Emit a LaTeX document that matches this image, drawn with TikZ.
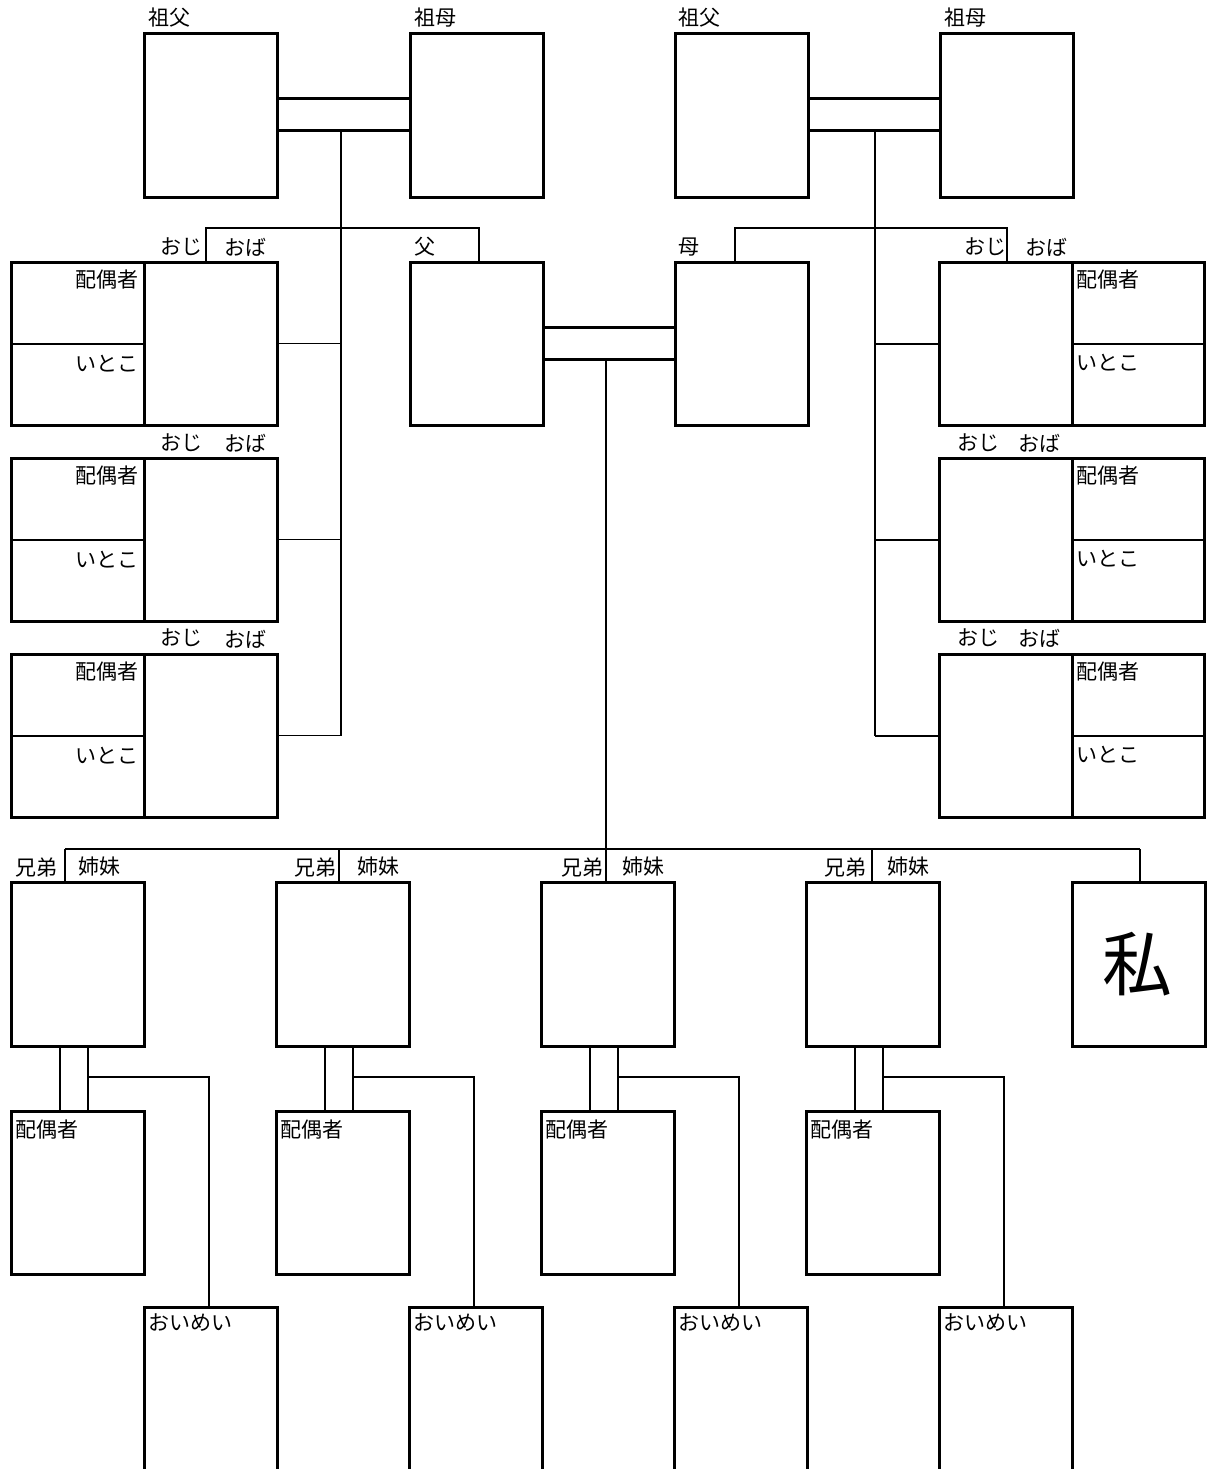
\documentclass[tikz,border=0pt]{standalone}
\usepackage{fontspec}
\newfontfamily\jp{Noto Sans CJK JP}
\begin{document}
\begin{tikzpicture}[x=1pt,y=-1pt,
  box/.style={draw, line width=3pt, minimum width=133pt, minimum height=163pt, anchor=north west, inner sep=0pt, outer sep=0pt},
  conn/.style={line width=1.4pt},
  connb/.style={line width=2pt},
  bar/.style={line width=3pt},
  divl/.style={line width=2pt},
  lbl/.style={font=\jp\fontsize{21}{25}\selectfont, inner sep=0pt, outer sep=0pt},
  big/.style={font=\jp\fontsize{70}{74}\selectfont, inner sep=0pt},
]
\useasboundingbox (0,0) rectangle (1209,1469);
\fill[white] (0,0) rectangle (1209,1469);
\clip (0,0) rectangle (1209,1469);

% ---------- grandparents ----------
\node[box] (gfL) at (144,34) {};
\node[box] (gmL) at (410,34) {};
\node[box] (gfR) at (675,34) {};
\node[box] (gmR) at (940,34) {};
\node[lbl, anchor=west] (lgfL) at (148,18) {祖父};
\node[lbl, anchor=west] (lgmL) at (414,18) {祖母};
\node[lbl, anchor=west] (lgfR) at (678,18) {祖父};
\node[lbl, anchor=west] (lgmR) at (944,18) {祖母};

\draw[bar] ([yshift=-65pt]gfL.north east) -- ([yshift=-65pt]gmL.north west);
\draw[bar] ([yshift=-97pt]gfL.north east) -- ([yshift=-97pt]gmL.north west);
\draw[bar] ([yshift=-65pt]gfR.north east) -- ([yshift=-65pt]gmR.north west);
\draw[bar] ([yshift=-97pt]gfR.north east) -- ([yshift=-97pt]gmR.north west);

% ---------- parents ----------
\node[box] (fa) at (410,262) {};
\node[box] (mo) at (675,262) {};
\node[lbl, anchor=west] (lfa) at (414,247) {父};
\node[lbl, anchor=west] (lmo) at (678,247) {母};
\draw[bar] ([yshift=-65pt]fa.north east) -- ([yshift=-65pt]mo.north west);
\draw[bar] ([yshift=-97pt]fa.north east) -- ([yshift=-97pt]mo.north west);

% ---------- left uncles / aunts ----------
\foreach \k/\t in {1/262, 2/458, 3/654} {
  \node[box] (uL\k) at (144,\t) {};
  \node[box] (cL\k) at (11,\t) {};
  \draw[divl] (cL\k.west) -- (cL\k.east);
  \node[lbl, anchor=east] (lspL\k) at (138,\t+18) {配偶者};
  \node[lbl, anchor=east] (lcoL\k) at (138,\t+102) {いとこ};
  \node[lbl, anchor=west] (lobL\k) at (224,\t-15) {おば};
}
\node[lbl, anchor=east] (lojL1) at (202,247) {おじ};
\node[lbl, anchor=east] (lojL2) at (202,443) {おじ};
\node[lbl, anchor=east] (lojL3) at (202,638) {おじ};

\coordinate (jL) at (341,131);
\coordinate (tUL) at (206,228);
\coordinate (tFa) at (479,228);
\draw[conn] (jL) -- (jL |- uL3.east);
\draw[conn] (uL1.east) -- (uL1.east -| jL);
\draw[conn] (uL2.east) -- (uL2.east -| jL);
\draw[conn] (uL3.east) -- (uL3.east -| jL);
\draw[conn] (tUL |- uL1.north) -- (tUL) -- (tFa) -- (tFa |- fa.north);

% ---------- right uncles / aunts ----------
\foreach \k/\t in {1/262, 2/458, 3/654} {
  \node[box] (uR\k) at (939,\t) {};
  \node[box, minimum width=132pt] (cR\k) at (1072,\t) {};
  \draw[divl] (cR\k.west) -- (cR\k.east);
  \node[lbl, anchor=west] (lspR\k) at (1076,\t+18) {配偶者};
  \node[lbl, anchor=west] (lcoR\k) at (1076,\t+101) {いとこ};
}
\node[lbl, anchor=east] (lojR1) at (1006,247) {おじ};
\node[lbl, anchor=west] (lobR1) at (1025,247) {おば};
\node[lbl, anchor=east] (lojR2) at (999,443) {おじ};
\node[lbl, anchor=west] (lobR2) at (1018,443) {おば};
\node[lbl, anchor=east] (lojR3) at (999,638) {おじ};
\node[lbl, anchor=west] (lobR3) at (1018,638) {おば};

\coordinate (jR) at (875,131);
\coordinate (tMo) at (735,228);
\coordinate (tUR) at (1007,228);
\draw[connb] (jR) -- (jR |- uR3.west);
\draw[connb] (uR1.west) -- (uR1.west -| jR);
\draw[connb] (uR2.west) -- (uR2.west -| jR);
\draw[connb] (uR3.west) -- (uR3.west -| jR);
\draw[conn] (tMo |- mo.north) -- (tMo) -- (tUR) -- (tUR |- uR1.north);

% ---------- siblings ----------
\foreach \i/\L/\N in {1/11/144, 2/276/409, 3/541/674, 4/806/939} {
  \node[box, minimum height=164pt] (s\i) at (\L,882) {};
  \node[box] (p\i) at (\L,1111) {};
  \node[box, minimum height=175pt] (n\i) at (\N,1307) {};
  \node[lbl, anchor=west] (lp\i) at (\L+4,1130) {配偶者};
  \node[lbl, anchor=west] (ln\i) at (\N+4,1323) {おいめい};
  \draw[conn] ([xshift=49pt]s\i.south west) -- ([xshift=49pt]p\i.north west);
  \draw[conn] ([xshift=77pt]s\i.south west) -- ([xshift=77pt]p\i.north west);
  \draw[conn] ([xshift=77pt,yshift=-31pt]s\i.south west) -| ([xshift=65pt]n\i.north west);
}
\node[box, minimum height=164pt, minimum width=133pt] (me) at (1072,882) {};
\node[big] (lme) at ([xshift=-1pt]me.center) {私};

\foreach \i/\lx/\rx in {1/58/78, 2/336/357, 3/603/622, 4/866/887} {
  \node[lbl, anchor=east] (lbr\i) at (\lx,867) {兄弟};
  \node[lbl, anchor=west] (lsi\i) at (\rx,867) {姉妹};
}

\coordinate (jP) at (606,359);
\coordinate (t1) at (65,849);
\coordinate (t2) at (339,849);
\coordinate (t3) at (606,849);
\coordinate (t4) at (872,849);
\coordinate (t5) at (1140,849);
\draw[connb] (jP) -- (t3);
\draw[connb] (t1) -- (t5);
\draw[conn] (t1) -- (t1 |- s1.north);
\draw[conn] (t2) -- (t2 |- s2.north);
\draw[conn] (t3) -- (t3 |- s3.north);
\draw[conn] (t4) -- (t4 |- s4.north);
\draw[conn] (t5) -- (t5 |- me.north);
\end{tikzpicture}
\end{document}
